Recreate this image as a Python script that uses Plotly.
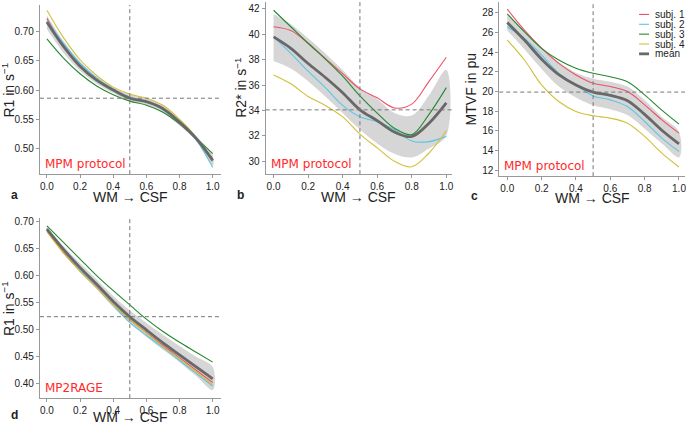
import plotly.graph_objects as go

W, H = 689, 425

x_pos = [0.0, 0.1, 0.2, 0.3, 0.4, 0.5, 0.6, 0.7, 0.8, 0.9, 1.0]
subjects = ["subj. 1", "subj. 2", "subj. 3", "subj. 4"]

# Panel a: R1 (MPM)
a_s1 = [0.723, 0.676, 0.640, 0.617, 0.599, 0.587, 0.580, 0.568, 0.545, 0.518, 0.482]
a_s2 = [0.720, 0.680, 0.646, 0.621, 0.602, 0.588, 0.580, 0.567, 0.543, 0.515, 0.467]
a_s3 = [0.688, 0.655, 0.628, 0.607, 0.592, 0.581, 0.574, 0.562, 0.542, 0.517, 0.491]
a_s4 = [0.737, 0.690, 0.652, 0.625, 0.605, 0.593, 0.586, 0.574, 0.550, 0.519, 0.477]
a_mean = [0.717, 0.675, 0.641, 0.617, 0.600, 0.586, 0.580, 0.568, 0.545, 0.517, 0.479]
a_up = [0.728, 0.684, 0.649, 0.623, 0.605, 0.592, 0.585, 0.574, 0.550, 0.521, 0.488]
a_lo = [0.705, 0.664, 0.633, 0.611, 0.595, 0.581, 0.574, 0.561, 0.539, 0.512, 0.470]

# Panel b: R2* (MPM)
b_s1 = [40.6, 40.3, 39.3, 38.1, 36.9, 35.7, 35.0, 34.2, 34.5, 36.3, 38.2]
b_s2 = [39.8, 38.5, 37.1, 35.8, 34.4, 33.5, 33.1, 32.5, 31.6, 31.55, 31.96]
b_s3 = [41.9, 40.6, 39.3, 38.05, 36.7, 35.15, 33.8, 32.6, 32.1, 33.7, 35.8]
b_s4 = [36.8, 36.1, 35.1, 34.4, 33.5, 32.14, 31.05, 30.0, 29.56, 30.65, 32.4]
b_mean = [39.8, 38.9, 37.7, 36.6, 35.4, 34.05, 33.2, 32.3, 31.95, 33.0, 34.6]
b_up = [41.6, 40.8, 39.7, 38.5, 37.2, 35.8, 34.9, 33.8, 33.6, 35.2, 37.2]
b_lo = [37.9, 37.3, 36.3, 35.1, 33.8, 32.5, 31.4, 30.6, 30.3, 31.0, 32.0]

# Panel c: MTVF (MPM)
c_s1 = [28.37, 26.24, 24.4, 22.86, 21.68, 20.84, 20.5, 20.0, 18.64, 17.12, 15.77]
c_s2 = [26.58, 25.4, 23.7, 21.85, 20.67, 19.55, 19.15, 18.47, 16.95, 15.26, 13.9]
c_s3 = [27.9, 26.07, 24.39, 23.2, 22.36, 21.85, 21.5, 21.0, 19.66, 18.1, 16.68]
c_s4 = [25.23, 23.2, 20.67, 18.98, 17.97, 17.53, 17.29, 16.78, 15.43, 13.74, 12.32]
c_mean = [27.02, 25.23, 23.29, 21.72, 20.67, 19.94, 19.61, 19.06, 17.67, 16.06, 14.67]
c_up = [27.8, 26.2, 24.4, 23.0, 21.9, 21.3, 21.0, 20.5, 19.1, 17.4, 15.9]
c_lo = [26.2, 24.3, 22.3, 20.5, 19.4, 18.6, 18.2, 17.6, 16.2, 14.7, 13.3]

# Panel d: R1 (MP2RAGE)
d_s1 = [0.684, 0.643, 0.609, 0.578, 0.546, 0.518, 0.494, 0.470, 0.447, 0.424, 0.401]
d_s2 = [0.688, 0.647, 0.611, 0.578, 0.545, 0.513, 0.489, 0.466, 0.442, 0.418, 0.394]
d_s3 = [0.6926, 0.662, 0.631, 0.600, 0.572, 0.5455, 0.519, 0.496, 0.476, 0.4575, 0.439]
d_s4 = [0.682, 0.642, 0.608, 0.578, 0.546, 0.518, 0.493, 0.468, 0.445, 0.421, 0.397]
d_mean = [0.6867, 0.649, 0.615, 0.584, 0.552, 0.5236, 0.499, 0.475, 0.4525, 0.430, 0.408]
d_up = [0.691, 0.655, 0.623, 0.593, 0.562, 0.535, 0.512, 0.490, 0.469, 0.449, 0.430]
d_lo = [0.682, 0.643, 0.607, 0.575, 0.541, 0.511, 0.486, 0.462, 0.439, 0.413, 0.387]

colors = ["#ee5068", "#5cc6e6", "#23892f", "#d2bf3a"]
mean_color = "#686868"
band_color = "#d6d6d6"

panels = [
    dict(s=[a_s1, a_s2, a_s3, a_s4], m=a_mean, up=a_up, lo=a_lo,
         dom_x=(40, 221), dom_y=(3, 173), xr=[-0.042, 1.048], yr=[0.4556, 0.746],
         yt=[0.50, 0.55, 0.60, 0.65, 0.70], yfmt=".2f", ytitle="R1 in s<sup>−1</sup>",
         ytx=8, letter="a", tag="MPM protocol", xty=196),
    dict(s=[b_s1, b_s2, b_s3, b_s4], m=b_mean, up=b_up, lo=b_lo,
         dom_x=(266, 453), dom_y=(0, 173), xr=[-0.046, 1.035], yr=[28.98, 42.55],
         yt=[30, 32, 34, 36, 38, 40, 42], yfmt="d", ytitle="R2* in s<sup>−1</sup>",
         ytx=241, letter="b", tag="MPM protocol", xty=196),
    dict(s=[c_s1, c_s2, c_s3, c_s4], m=c_mean, up=c_up, lo=c_lo,
         dom_x=(500, 686), dom_y=(0, 175), xr=[-0.0465, 1.035], yr=[11.39, 29.1],
         yt=[12, 14, 16, 18, 20, 22, 24, 26, 28], yfmt="d", ytitle="MTVF in pu",
         ytx=472, letter="c", tag="MPM protocol", xty=197),
    dict(s=[d_s1, d_s2, d_s3, d_s4], m=d_mean, up=d_up, lo=d_lo,
         dom_x=(40, 221), dom_y=(217, 398), xr=[-0.042, 1.048], yr=[0.372, 0.7074],
         yt=[0.40, 0.45, 0.50, 0.55, 0.60, 0.65, 0.70], yfmt=".2f", ytitle="R1 in s<sup>−1</sup>",
         ytx=8, letter="d", tag="MP2RAGE", xty=417),
]

fig = go.Figure()
layout = dict(width=W, height=H, margin=dict(l=0, r=0, t=0, b=0),
              paper_bgcolor="white", plot_bgcolor="white", showlegend=False,
              font=dict(family="Liberation Sans, Arial, sans-serif", color="#222"))
shapes, annos = [], []

def px(v):
    return v / W

def py(v):
    return 1 - v / H

axis_common = dict(showgrid=False, zeroline=False, showline=True, linecolor="#999",
                   linewidth=1, ticks="outside", ticklen=3, tickcolor="#999",
                   tickfont=dict(size=10, color="#222"), mirror=False)

for i, p in enumerate(panels):
    n = i + 1
    xa = "x" if n == 1 else f"x{n}"
    ya = "y" if n == 1 else f"y{n}"
    fig.add_trace(go.Scatter(x=x_pos + x_pos[::-1], y=p["up"] + p["lo"][::-1],
                             fill="toself", fillcolor=band_color, line=dict(width=0, shape="spline"),
                             mode="lines", hoverinfo="skip", xaxis=xa, yaxis=ya))
    for s, c, name in zip(p["s"], colors, subjects):
        fig.add_trace(go.Scatter(x=x_pos, y=s, mode="lines", name=name,
                                 line=dict(color=c, width=1.1, shape="spline"),
                                 xaxis=xa, yaxis=ya))
    fig.add_trace(go.Scatter(x=x_pos, y=p["m"], mode="lines", name="mean",
                             line=dict(color=mean_color, width=2.8, shape="spline"),
                             xaxis=xa, yaxis=ya))
    key_x = "xaxis" if n == 1 else f"xaxis{n}"
    key_y = "yaxis" if n == 1 else f"yaxis{n}"
    layout[key_x] = dict(axis_common, domain=[px(p["dom_x"][0]), px(p["dom_x"][1])],
                         range=p["xr"], anchor=ya, tickvals=[0, 0.2, 0.4, 0.6, 0.8, 1.0],
                         tickformat=".1f")
    layout[key_y] = dict(axis_common, domain=[py(p["dom_y"][1]), py(p["dom_y"][0])],
                         range=p["yr"], anchor=xa, tickvals=p["yt"], tickformat=p["yfmt"])
    shapes.append(dict(type="line", xref=xa, yref=f"{ya} domain", x0=0.5, x1=0.5, y0=0, y1=1,
                       line=dict(color="#777", width=1, dash="4px,3px")))
    shapes.append(dict(type="line", xref=f"{xa} domain", yref=ya, x0=0, x1=1,
                       y0=p["m"][5], y1=p["m"][5],
                       line=dict(color="#777", width=1, dash="4px,3px")))
    cx = (p["dom_x"][0] + p["dom_x"][1]) / 2
    annos.append(dict(text="WM → CSF", xref="paper", yref="paper", x=px(cx),
                      y=py(p["xty"]), showarrow=False, font=dict(size=14, color="#222"),
                      xanchor="center", yanchor="middle"))
    cy = (p["dom_y"][0] + p["dom_y"][1]) / 2
    annos.append(dict(text=p["ytitle"], xref="paper", yref="paper", x=px(p["ytx"]), y=py(cy),
                      showarrow=False, textangle=-90, font=dict(size=14, color="#222"),
                      xanchor="center", yanchor="middle"))
    annos.append(dict(text="<b>" + p["letter"] + "</b>", xref="paper", yref="paper",
                      x=px(p["dom_x"][0] - 25), y=py(p["xty"] - 2), showarrow=False,
                      font=dict(size=12, color="#222"), xanchor="center", yanchor="middle"))
    annos.append(dict(text=p["tag"], xref="paper", yref="paper", x=px(p["dom_x"][0] + 3),
                      y=py(p["dom_y"][1] - 10), showarrow=False,
                      font=dict(size=12, color="#ff2a2a", family="DejaVu Sans"),
                      xanchor="left", yanchor="middle"))

leg_names = subjects + ["mean"]
leg_colors = colors + [mean_color]
for k, (nm, c) in enumerate(zip(leg_names, leg_colors)):
    yy = 12.5 + k * 9.9
    shapes.append(dict(type="line", xref="paper", yref="paper", x0=px(640), x1=px(650),
                       y0=py(yy), y1=py(yy),
                       line=dict(color=c, width=2.8 if nm == "mean" else 1.1)))
    annos.append(dict(text=nm, xref="paper", yref="paper", x=px(654), y=py(yy),
                      showarrow=False, font=dict(size=10, color="#222"),
                      xanchor="left", yanchor="middle"))

layout["shapes"] = shapes
layout["annotations"] = annos
fig.update_layout(**layout)
fig.write_html("out.html", config={"displayModeBar": False},
               post_script="document.body.style.margin='0';")
